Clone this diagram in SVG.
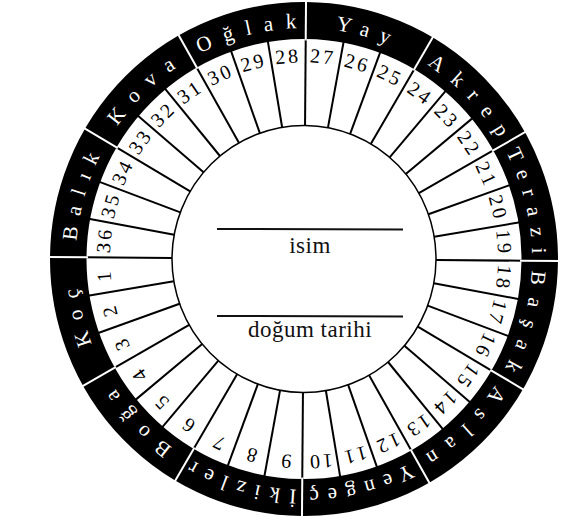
<svg xmlns="http://www.w3.org/2000/svg" xmlns:xlink="http://www.w3.org/1999/xlink" width="567" height="521" viewBox="0 0 567 521">
<style>
.num{font-family:"Liberation Serif",serif;font-size:20px;fill:#000;text-anchor:middle;letter-spacing:3px}
.sign{font-family:"Liberation Serif",serif;font-size:21px;fill:#fff;text-anchor:middle}
.tick{stroke:#000;stroke-width:2}
.sep{stroke:#fff;stroke-width:2}
.lbl{font-family:"Liberation Serif",serif;font-size:23px;fill:#111;text-anchor:middle;letter-spacing:0.5px}
</style>
<defs>
<line id="tick" class="tick" x1="304" y1="127" x2="304" y2="40"/>
<line id="sep" class="sep" x1="304" y1="43" x2="304" y2="2"/>
<path id="zp" d="M 76 259 A 228 228 0 1 1 532 259 A 228 228 0 1 1 76 259"/>
</defs>
<rect width="567" height="521" fill="#fff"/>
<g id="wheel" transform="rotate(0.45 304 259) translate(304 259) scale(1 1.012) translate(-304 -259)">
<g id="rings">
<circle cx="304" cy="259" r="235.75" fill="none" stroke="#000" stroke-width="36.5"/>
<circle cx="304" cy="259" r="132" fill="#fff" stroke="#000" stroke-width="1.5"/>
</g>
<g id="connectors">
<use xlink:href="#tick" transform="rotate(0 304 259)"/>
<use xlink:href="#tick" transform="rotate(10 304 259)"/>
<use xlink:href="#tick" transform="rotate(20 304 259)"/>
<use xlink:href="#tick" transform="rotate(30 304 259)"/>
<use xlink:href="#tick" transform="rotate(40 304 259)"/>
<use xlink:href="#tick" transform="rotate(50 304 259)"/>
<use xlink:href="#tick" transform="rotate(60 304 259)"/>
<use xlink:href="#tick" transform="rotate(70 304 259)"/>
<use xlink:href="#tick" transform="rotate(80 304 259)"/>
<use xlink:href="#tick" transform="rotate(90 304 259)"/>
<use xlink:href="#tick" transform="rotate(100 304 259)"/>
<use xlink:href="#tick" transform="rotate(110 304 259)"/>
<use xlink:href="#tick" transform="rotate(120 304 259)"/>
<use xlink:href="#tick" transform="rotate(130 304 259)"/>
<use xlink:href="#tick" transform="rotate(140 304 259)"/>
<use xlink:href="#tick" transform="rotate(150 304 259)"/>
<use xlink:href="#tick" transform="rotate(160 304 259)"/>
<use xlink:href="#tick" transform="rotate(170 304 259)"/>
<use xlink:href="#tick" transform="rotate(180 304 259)"/>
<use xlink:href="#tick" transform="rotate(190 304 259)"/>
<use xlink:href="#tick" transform="rotate(200 304 259)"/>
<use xlink:href="#tick" transform="rotate(210 304 259)"/>
<use xlink:href="#tick" transform="rotate(220 304 259)"/>
<use xlink:href="#tick" transform="rotate(230 304 259)"/>
<use xlink:href="#tick" transform="rotate(240 304 259)"/>
<use xlink:href="#tick" transform="rotate(250 304 259)"/>
<use xlink:href="#tick" transform="rotate(260 304 259)"/>
<use xlink:href="#tick" transform="rotate(270 304 259)"/>
<use xlink:href="#tick" transform="rotate(280 304 259)"/>
<use xlink:href="#tick" transform="rotate(290 304 259)"/>
<use xlink:href="#tick" transform="rotate(300 304 259)"/>
<use xlink:href="#tick" transform="rotate(310 304 259)"/>
<use xlink:href="#tick" transform="rotate(320 304 259)"/>
<use xlink:href="#tick" transform="rotate(330 304 259)"/>
<use xlink:href="#tick" transform="rotate(340 304 259)"/>
<use xlink:href="#tick" transform="rotate(350 304 259)"/>
<use xlink:href="#sep" transform="rotate(0 304 259)"/>
<use xlink:href="#sep" transform="rotate(30 304 259)"/>
<use xlink:href="#sep" transform="rotate(60 304 259)"/>
<use xlink:href="#sep" transform="rotate(90 304 259)"/>
<use xlink:href="#sep" transform="rotate(120 304 259)"/>
<use xlink:href="#sep" transform="rotate(150 304 259)"/>
<use xlink:href="#sep" transform="rotate(180 304 259)"/>
<use xlink:href="#sep" transform="rotate(210 304 259)"/>
<use xlink:href="#sep" transform="rotate(240 304 259)"/>
<use xlink:href="#sep" transform="rotate(270 304 259)"/>
<use xlink:href="#sep" transform="rotate(300 304 259)"/>
<use xlink:href="#sep" transform="rotate(330 304 259)"/>
</g>
<g id="numbers">
<text class="num" x="304" y="65" transform="rotate(265 304 259)">1</text>
<text class="num" x="304" y="65" transform="rotate(255 304 259)">2</text>
<text class="num" x="304" y="65" transform="rotate(245 304 259)">3</text>
<text class="num" x="304" y="65" transform="rotate(235 304 259)">4</text>
<text class="num" x="304" y="65" transform="rotate(225 304 259)">5</text>
<text class="num" x="304" y="65" transform="rotate(215 304 259)">6</text>
<text class="num" x="304" y="65" transform="rotate(205 304 259)">7</text>
<text class="num" x="304" y="65" transform="rotate(195 304 259)">8</text>
<text class="num" x="304" y="65" transform="rotate(185 304 259)">9</text>
<text class="num" x="304" y="65" transform="rotate(175 304 259)">10</text>
<text class="num" x="304" y="65" transform="rotate(165 304 259)">11</text>
<text class="num" x="304" y="65" transform="rotate(155 304 259)">12</text>
<text class="num" x="304" y="65" transform="rotate(145 304 259)">13</text>
<text class="num" x="304" y="65" transform="rotate(135 304 259)">14</text>
<text class="num" x="304" y="65" transform="rotate(125 304 259)">15</text>
<text class="num" x="304" y="65" transform="rotate(115 304 259)">16</text>
<text class="num" x="304" y="65" transform="rotate(105 304 259)">17</text>
<text class="num" x="304" y="65" transform="rotate(95 304 259)">18</text>
<text class="num" x="304" y="65" transform="rotate(85 304 259)">19</text>
<text class="num" x="304" y="65" transform="rotate(75 304 259)">20</text>
<text class="num" x="304" y="65" transform="rotate(65 304 259)">21</text>
<text class="num" x="304" y="65" transform="rotate(55 304 259)">22</text>
<text class="num" x="304" y="65" transform="rotate(45 304 259)">23</text>
<text class="num" x="304" y="65" transform="rotate(35 304 259)">24</text>
<text class="num" x="304" y="65" transform="rotate(25 304 259)">25</text>
<text class="num" x="304" y="65" transform="rotate(15 304 259)">26</text>
<text class="num" x="304" y="65" transform="rotate(5 304 259)">27</text>
<text class="num" x="304" y="65" transform="rotate(-5 304 259)">28</text>
<text class="num" x="304" y="65" transform="rotate(-15 304 259)">29</text>
<text class="num" x="304" y="65" transform="rotate(-25 304 259)">30</text>
<text class="num" x="304" y="65" transform="rotate(-35 304 259)">31</text>
<text class="num" x="304" y="65" transform="rotate(-45 304 259)">32</text>
<text class="num" x="304" y="65" transform="rotate(-55 304 259)">33</text>
<text class="num" x="304" y="65" transform="rotate(-65 304 259)">34</text>
<text class="num" x="304" y="65" transform="rotate(-75 304 259)">35</text>
<text class="num" x="304" y="65" transform="rotate(-85 304 259)">36</text>
</g>
<g id="signs">
<text class="sign" letter-spacing="10.4"><textPath xlink:href="#zp" startOffset="64.9">Balık</textPath></text>
<text class="sign" letter-spacing="12.5"><textPath xlink:href="#zp" startOffset="185.4">Kova</textPath></text>
<text class="sign" letter-spacing="12.3"><textPath xlink:href="#zp" startOffset="304.6">Oğlak</textPath></text>
<text class="sign" letter-spacing="10.7"><textPath xlink:href="#zp" startOffset="420.2">Yay</textPath></text>
<text class="sign" letter-spacing="12.5"><textPath xlink:href="#zp" startOffset="543.5">Akrep</textPath></text>
<text class="sign" letter-spacing="10.5"><textPath xlink:href="#zp" startOffset="661.9">Terazi</textPath></text>
<text class="sign" letter-spacing="12.5"><textPath xlink:href="#zp" startOffset="782.3">Başak</textPath></text>
<text class="sign" letter-spacing="12.5"><textPath xlink:href="#zp" startOffset="901.7">Aslan</textPath></text>
<text class="sign" letter-spacing="8.5"><textPath xlink:href="#zp" startOffset="1019">Yengeç</textPath></text>
<text class="sign" letter-spacing="9"><textPath xlink:href="#zp" startOffset="1138.6">İkizler</textPath></text>
<text class="sign" letter-spacing="12.5"><textPath xlink:href="#zp" startOffset="1259.8">Boğa</textPath></text>
<text class="sign" letter-spacing="11"><textPath xlink:href="#zp" startOffset="1378.4">Koç</textPath></text>
</g>
</g>
<g id="center">
<line x1="217" y1="229" x2="403" y2="229.5" stroke="#111" stroke-width="2"/>
<text class="lbl" x="310" y="253">isim</text>
<line x1="217" y1="316" x2="403" y2="316.5" stroke="#111" stroke-width="2"/>
<text class="lbl" x="310" y="337">doğum tarihi</text>
</g>
</svg>
